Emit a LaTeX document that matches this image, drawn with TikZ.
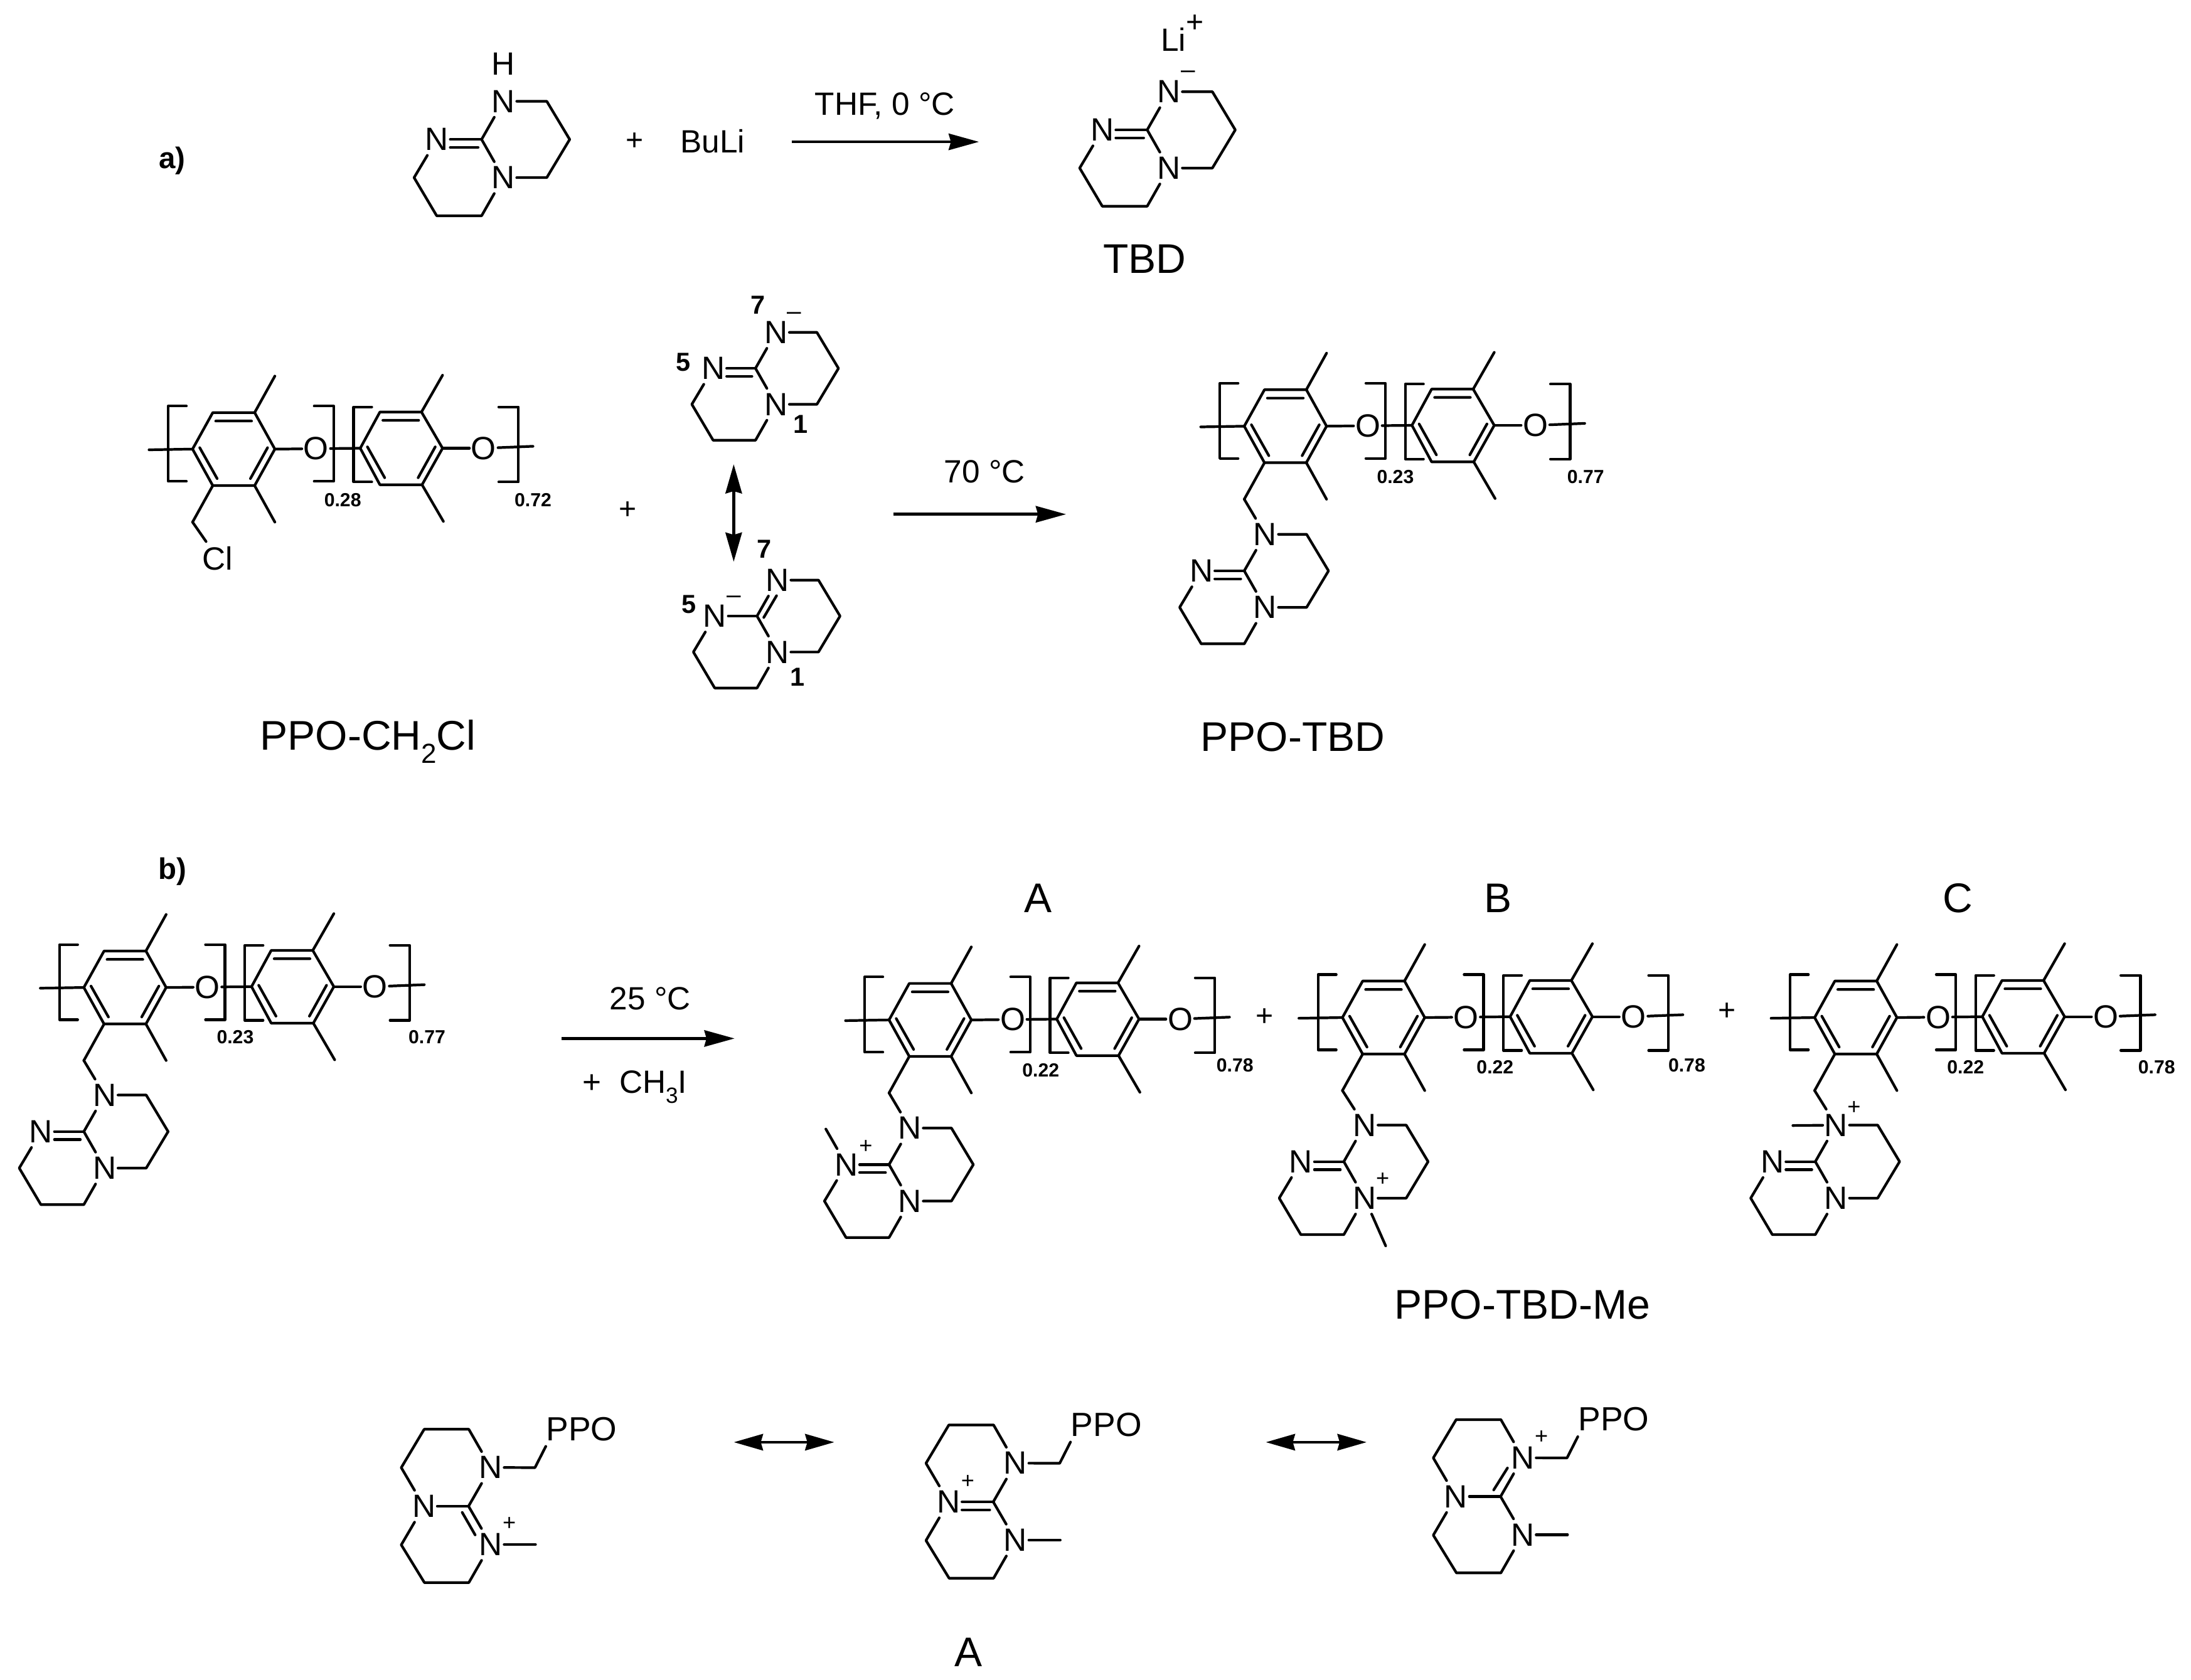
\documentclass[tikz,border=0pt]{standalone}
\usepackage{fontspec}
\setmainfont{Liberation Sans}
\usetikzlibrary{arrows.meta}
\tikzset{
  atom/.style={font=\fontsize{14.6}{15}\selectfont,inner xsep=0.8pt,inner ysep=2.2pt,outer sep=0pt},
  bond/.style={line width=1.2pt,line cap=round,line join=round},
  lab/.style={font=\fontsize{14.6}{16}\selectfont,inner sep=0pt},
  biglab/.style={font=\fontsize{18.8}{20}\selectfont,inner sep=0pt},
  frac/.style={font=\fontsize{8.6}{10}\selectfont\bfseries,inner sep=0pt},
  num/.style={font=\fontsize{11.8}{13}\selectfont\bfseries,inner sep=0pt},
  head/.style={font=\fontsize{13.5}{15}\selectfont\bfseries,inner sep=0pt},
  chg/.style={font=\fontsize{10.3}{12}\selectfont,inner sep=0pt},
  minus/.style={font=\fontsize{11.5}{12}\selectfont,inner sep=0pt},
  bigplus/.style={font=\fontsize{13.7}{14}\selectfont,inner sep=0pt},
  ppolab/.style={font=\fontsize{15.2}{16}\selectfont,inner xsep=0pt,inner ysep=2.3pt},
  arr/.style={line width=1.3pt,-{Stealth[length=13.7pt,width=7.4pt,inset=1pt]}},
  dblarr/.style={line width=1.3pt,{Stealth[length=13.2pt,width=7.4pt,inset=1pt]}-{Stealth[length=13.2pt,width=7.4pt,inset=1pt]}},
}
% bicyclic TBD, rings to the right and below: prefix, x, y of central C, scale
\newcommand{\tbdA}[4]{%
\begin{scope}[shift={(#2,#3)},scale=#4]
  \coordinate (#1C) at (0,0);
  \node[atom] (#1Nt) at (14.8,-26) {N};
  \node[atom] (#1Nb) at (14.8,26) {N};
  \node[atom] (#1Nl) at (-30.5,0) {N};
  \coordinate (#1R1) at (44.4,-26);
  \coordinate (#1R2) at (60,0);
  \coordinate (#1R3) at (44.4,26);
  \coordinate (#1L1) at (-46,26);
  \coordinate (#1L2) at (-30.6,52);
  \coordinate (#1L3) at (0,52);
  \draw[bond] (#1C)--(#1Nt);
  \draw[bond] (#1Nt)--(#1R1)--(#1R2)--(#1R3)--(#1Nb);
  \draw[bond] (#1Nb)--(#1C);
  \draw[bond] (#1C)--(#1Nl);
  \draw[bond] (#1Nl)--(#1L1)--(#1L2)--(#1L3)--(#1Nb);
\end{scope}}
% second line of the C=N double bond to the left nitrogen
\newcommand{\dblLeft}[1]{\draw[bond] ([shift={(-2.5,5.7)}]#1C) -- ([shift={(0,5.7)}]#1Nl.east);}
% bicyclic TBD, rings to the left: prefix, x, y of central C
\newcommand{\tbdB}[3]{%
\begin{scope}[shift={(#2,#3)}]
  \coordinate (#1C) at (0,0);
  \node[atom] (#1Nt) at (15.8,-27.6) {N};
  \node[atom] (#1Nb) at (15.8,27.2) {N};
  \node[atom] (#1Nl) at (-31.8,0) {N};
  \coordinate (#1T) at (0.2,-54.8);
  \coordinate (#1Ta) at (-31.6,-54.8);
  \coordinate (#1L) at (-47.9,-27.5);
  \coordinate (#1La) at (-47.9,27.5);
  \coordinate (#1Ba) at (-31.4,54.4);
  \coordinate (#1B) at (0.2,54.4);
  \coordinate (#1CH) at (47.3,-27.5);
  \coordinate (#1Me) at (47.7,27.2);
  \node[ppolab] (#1P) at (80.5,-55) {PPO};
  \draw[bond] (#1C)--(#1Nt);
  \draw[bond] (#1Nt)--(#1T)--(#1Ta)--(#1L)--(#1Nl);
  \draw[bond] (#1Nl)--(#1C);
  \draw[bond] (#1C)--(#1Nb);
  \draw[bond] (#1Nb)--(#1B)--(#1Ba)--(#1La)--(#1Nl);
  \draw[bond] (#1Nt)--(#1CH)--(#1P.south west);
  \draw[bond] (#1Nb)--(#1Me);
\end{scope}}
% PPO copolymer repeat: prefix, x, y of left ring vertex
\newcommand{\ppo}[3]{%
\begin{scope}[shift={(#2,#3)}]
  \coordinate (#1L) at (0,0);
  \coordinate (#1TL) at (14.4,-26);
  \coordinate (#1TR) at (44.2,-26);
  \coordinate (#1R) at (58.6,0);
  \coordinate (#1BR) at (44.2,26);
  \coordinate (#1BL) at (14.4,26);
  \coordinate (#1St) at (-31,0.5);
  \coordinate (#1Mu) at (58.6,-52);
  \coordinate (#1Md) at (58.6,52);
  \coordinate (#1CH) at (0,52);
  \node[atom] (#1O) at (88,-0.3) {O};
  \draw[bond] (#1L)--(#1TL)--(#1TR)--(#1R)--(#1BR)--(#1BL)--cycle;
  \draw[bond] (16.5,-20)--(42,-20) (5.1,-1)--(17.5,21) (53.4,-1)--(41.2,21);
  \draw[bond] (#1St)--(#1L);
  \draw[bond] (#1TR)--(#1Mu);
  \draw[bond] (#1BR)--(#1Md);
  \draw[bond] (#1BL)--(#1CH);
  \draw[bond] (#1R)--(#1O);
  \draw[bond] (-4.4,-30.6)--(-17.4,-30.6)--(-17.4,23)--(-4.4,23);
  \draw[bond] (86.6,-30.6)--(100.5,-30.6)--(100.5,23)--(86.6,23);
  \coordinate (#1M) at (119.4,-0.6);
  \coordinate (#1MTL) at (133.4,-26.4);
  \coordinate (#1MTR) at (163,-26.4);
  \coordinate (#1MR) at (178,-0.6);
  \coordinate (#1MBR) at (163.4,25.4);
  \coordinate (#1MBL) at (133.4,25.4);
  \coordinate (#1Mu2) at (178,-52.6);
  \coordinate (#1Md2) at (178.6,51.5);
  \coordinate (#1En) at (242.4,-2);
  \node[atom] (#1O2) at (207.3,-0.6) {O};
  \draw[bond] (#1O)--(#1M);
  \draw[bond] (#1M)--(#1MTL)--(#1MTR)--(#1MR)--(#1MBR)--(#1MBL)--cycle;
  \draw[bond] (135.5,-20.5)--(161,-20.5) (124.5,-1.6)--(136.8,20.4) (172.8,-1.6)--(160.6,20.4);
  \draw[bond] (#1MTR)--(#1Mu2);
  \draw[bond] (#1MBR)--(#1Md2);
  \draw[bond] (#1MR)--(#1O2);
  \draw[bond] (#1O2)--(#1En);
  \draw[bond] (127.6,-30)--(114.6,-30)--(114.6,23.4)--(127.6,23.4);
  \draw[bond] (218,-30)--(232,-30)--(232,23.4)--(218,23.4);
\end{scope}}
\begin{document}
\begin{tikzpicture}[x=0.022385cm,y=-0.022385cm]
\useasboundingbox (0,0) rectangle (1560,1196);
\fill[white] (0,0) rectangle (1560,1196);

% ---------- a) ----------
\node[head] (hA) at (122.5,114.5) {a)};
\tbdA{u}{342.9}{99.3}{1.045}
\dblLeft{u}
\node[atom] (uH) at (358.4,45.4) {H};
\node[bigplus] (pl1) at (451.9,100.8) {+};
\node[lab] (buli) at (507.5,100.5) {BuLi};
\coordinate (a1s) at (563.7,101); \coordinate (a1e) at (697,101);
\draw[arr] (a1s)--(a1e);
\node[lab] (thf) at (630,75.5) {THF, 0 °C};
\tbdA{v}{816.8}{92.5}{1.045}
\dblLeft{v}
\node[lab] (li) at (835.5,28) {Li};
\node[bigplus] (lip) at (851,17) {+};
\node[minus] (vm) at (846,53) {–};
\node[biglab] (tbdl) at (815,184.5) {TBD};

% ---------- PPO-CH2Cl ----------
\ppo{a}{137.1}{319.8}
\node[frac] (f1) at (244,356) {0.28};
\node[frac] (f2) at (379.5,356) {0.72};
\node[atom] (cl) at (155,397.5) {Cl};
\draw[bond] (aCH)--(cl);
\node[biglab] (lab1) at (262,528) {PPO-CH\raisebox{-.32em}{\fontsize{12.5}{13}\selectfont 2}Cl};
\node[bigplus] (pl2) at (447,363.5) {+};

% anions
\tbdA{w}{537.9}{262.3}{0.985}
\dblLeft{w}
\node[minus] (wm) at (565.6,225) {–};
\node[num] (w7) at (539.8,217) {7};
\node[num] (w5) at (486.5,258) {5};
\node[num] (w1) at (570,302.3) {1};
\coordinate (vs) at (522.4,330.6); \coordinate (ve) at (522.4,400);
\draw[dblarr] (vs)--(ve);
\tbdA{y}{539}{438.7}{0.985}
\draw[bond] ([shift={(4.8,1)}]yC)--([shift={(13.9,-14.5)}]yC);
\node[minus] (ym) at (522.7,427) {–};
\node[num] (y7) at (544.3,391) {7};
\node[num] (y5) at (490.4,430.2) {5};
\node[num] (y1) at (567.7,482) {1};

\coordinate (a2s) at (636,366.2); \coordinate (a2e) at (759,366.2);
\draw[arr] (a2s)--(a2e);
\node[lab] (t70) at (701,336) {70 °C};

% PPO-TBD
\ppo{b}{885.9}{303.5}
\node[frac] (f3) at (993.5,339.5) {0.23};
\node[frac] (f4) at (1129,339.5) {0.77};
\tbdA{c}{885.9}{406.5}{1}
\dblLeft{c}
\draw[bond] (bCH)--(cNt);
\node[biglab] (lab2) at (920.5,525) {PPO-TBD};

% ---------- b) ----------
\node[head] (hB) at (123,620.5) {b)};
\ppo{d}{59.7}{703.2}
\node[frac] (f5) at (167.5,738.5) {0.23};
\node[frac] (f6) at (304,738.5) {0.77};
\tbdA{e}{59.7}{805.8}{1}
\dblLeft{e}
\draw[bond] (dCH)--(eNt);
\coordinate (a3s) at (400,739.5); \coordinate (a3e) at (523,739.5);
\draw[arr] (a3s)--(a3e);
\node[lab] (t25) at (463,711) {25 °C};
\node[lab] (ch3i) at (452,774) {+\ \ CH\raisebox{-.32em}{\fontsize{10}{10}\selectfont 3}I};

\node[biglab] (la) at (739.3,639.5) {A};
\node[biglab] (lb) at (1066.7,639.5) {B};
\node[biglab] (lc) at (1394,639.5) {C};

% A
\ppo{f}{633}{726.3}
\node[frac] (f7) at (741,762) {0.22};
\node[frac] (f8) at (879.3,758.5) {0.78};
\tbdA{g}{633}{829.3}{1}
\dblLeft{g}
\draw[bond] (fCH)--(gNt);
\coordinate (gMe) at (588,804);
\draw[bond] (gNl)--(gMe);
\node[chg] (gp) at (616.5,816.8) {+};
\node[bigplus] (pl3) at (900.5,724.5) {+};

% B
\ppo{h}{955.8}{724.6}
\node[frac] (f9) at (1064.5,760) {0.22};
\node[frac] (f10) at (1201,758.5) {0.78};
\tbdA{i}{956.8}{827.2}{1}
\dblLeft{i}
\draw[bond] (hCH)--(iNt);
\coordinate (iMe) at (986.6,887.2);
\draw[bond] (iNb)--(iMe);
\node[chg] (ip) at (984.5,840) {+};
\node[bigplus] (pl4) at (1229.5,720.5) {+};

% C
\ppo{j}{1292}{724.6}
\node[frac] (f11) at (1399.5,760) {0.22};
\node[frac] (f12) at (1535.5,760) {0.78};
\tbdA{k}{1292.5}{827.2}{1}
\dblLeft{k}
\draw[bond] (jCH)--(kNt);
\coordinate (kMe) at (1276.5,801.5);
\draw[bond] (kNt)--(kMe);
\node[chg] (kp) at (1320,789) {+};

\node[biglab] (lme) at (1084,929) {PPO-TBD-Me};

% ---------- resonance forms ----------
\tbdB{m}{333.6}{1072.6}
\draw[bond] (329.1,1077)--(338.3,1093);
\node[chg] (mp) at (362.6,1085.2) {+};
\coordinate (a4s) at (522.5,1027); \coordinate (a4e) at (594,1027);
\draw[dblarr] (a4s)--(a4e);

\tbdB{n}{707.2}{1069.5}
\dblLeft{n}
\node[chg] (np) at (689,1055) {+};
\coordinate (a5s) at (901.3,1027); \coordinate (a5e) at (973,1027);
\draw[dblarr] (a5s)--(a5e);

\tbdB{o}{1068.4}{1065.7}
\draw[bond] (1063.5,1061)--(1073.3,1045.4);
\node[chg] (op) at (1097.5,1023.4) {+};

\node[biglab] (lA2) at (689.5,1176.5) {A};
\end{tikzpicture}
\end{document}
